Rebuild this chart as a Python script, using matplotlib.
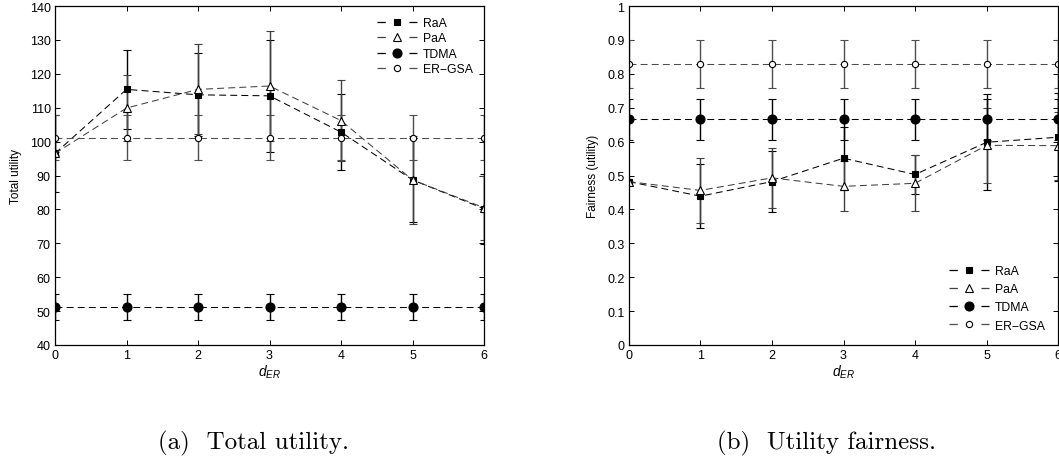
import matplotlib
matplotlib.use('Agg')
import matplotlib.pyplot as plt
from matplotlib.lines import Line2D
from matplotlib.ticker import FuncFormatter

plt.rcParams['font.family'] = ['Liberation Sans', 'DejaVu Sans']
plt.rcParams['mathtext.fontset'] = 'custom'
plt.rcParams['mathtext.it'] = 'Liberation Sans:italic'
plt.rcParams['mathtext.rm'] = 'Liberation Sans'
plt.rcParams['lines.scale_dashes'] = False

# abscissa
d_er = [0, 1, 2, 3, 4, 5, 6]

# (a) total utility
raa_util = [96.5, 115.4, 113.8, 113.5, 102.8, 88.7, 80.2]
raa_util_err = [11.3, 11.6, 12.2, 16.6, 11.1, 12.5, 10.3]
paa_util = [96.5, 109.9, 115.4, 116.4, 106.2, 88.7, 80.5]
paa_util_err = [0.5, 9.6, 13.3, 16.1, 12.0, 13.0, 9.5]
tdma_util = [51.3, 51.3, 51.3, 51.3, 51.3, 51.3, 51.3]
tdma_util_err = [3.8, 3.8, 3.8, 3.8, 3.8, 3.8, 3.8]
gsa_util = [101.2, 101.2, 101.2, 101.2, 101.2, 101.2, 101.2]
gsa_util_err = [6.7, 6.7, 6.7, 6.7, 6.7, 6.7, 6.7]

# (b) utility fairness
raa_fair = [0.482, 0.439, 0.482, 0.551, 0.503, 0.598, 0.613]
raa_fair_err = [0.0, 0.095, 0.089, 0.093, 0.057, 0.142, 0.13]
paa_fair = [0.482, 0.456, 0.493, 0.468, 0.477, 0.589, 0.588]
paa_fair_err = [0.0, 0.096, 0.089, 0.074, 0.083, 0.11, 0.10]
tdma_fair = [0.666, 0.666, 0.666, 0.666, 0.666, 0.666, 0.666]
tdma_fair_err = [0.06, 0.06, 0.06, 0.06, 0.06, 0.06, 0.06]
gsa_fair = [0.828, 0.828, 0.828, 0.828, 0.828, 0.828, 0.828]
gsa_fair_err = [0.071, 0.071, 0.071, 0.071, 0.071, 0.071, 0.071]

labels = ['RaA', 'PaA', 'TDMA', 'ER\u2212GSA']

# style per series: marker, size, face, line colour
styles = [
    dict(marker='s', ms=4.5, mfc='k', color='k'),
    dict(marker='^', ms=5.5, mfc='w', color='0.25'),
    dict(marker='o', ms=6.5, mfc='k', color='k'),
    dict(marker='o', ms=4.5, mfc='w', color='0.3'),
]
DASH = (5, 3)


def draw_panel(ax, series, ylim, yticks, ylabel, fmt):
    for (y, err), st in zip(series, styles):
        ax.errorbar(d_er, y, yerr=err, marker=st['marker'], ms=st['ms'],
                    mfc=st['mfc'], mec='k', mew=0.8, color=st['color'],
                    ecolor=st['color'], elinewidth=1.0, capsize=3,
                    capthick=1.0, lw=0.75, dashes=DASH)
    ax.set_xlim(0, 6)
    ax.set_ylim(*ylim)
    ax.set_xticks(d_er)
    ax.set_yticks(yticks)
    ax.yaxis.set_major_formatter(FuncFormatter(fmt))
    ax.tick_params(direction='in', length=3.6, width=0.7, labelsize=9,
                   top=True, right=True, pad=3)
    for s in ax.spines.values():
        s.set_linewidth(0.9)
    ax.set_xlabel('$d_{ER}$', fontsize=10, labelpad=1)
    ax.set_ylabel(ylabel, fontsize=8.5, labelpad=6)


def legend_handles():
    hs = []
    for st in styles:
        hs.append(Line2D([], [], marker=st['marker'], ms=st['ms'],
                         mfc=st['mfc'], mec='k', mew=0.8, color=st['color'],
                         lw=0.9, dashes=(6, 17)))
    return hs


fig = plt.figure(figsize=(10.59, 4.60), dpi=100)
ax1 = fig.add_axes([55 / 1059, 114 / 460, 429 / 1059, 339 / 460])
ax2 = fig.add_axes([628.7 / 1059, 114 / 460, 429.6 / 1059, 339 / 460])

draw_panel(ax1,
           [(raa_util, raa_util_err), (paa_util, paa_util_err),
            (tdma_util, tdma_util_err), (gsa_util, gsa_util_err)],
           (40, 140), list(range(40, 141, 10)), 'Total utility',
           lambda v, p: '%d' % v)
draw_panel(ax2,
           [(raa_fair, raa_fair_err), (paa_fair, paa_fair_err),
            (tdma_fair, tdma_fair_err), (gsa_fair, gsa_fair_err)],
           (0, 1), [i / 10 for i in range(11)], 'Fairness (utility)',
           lambda v, p: '%g' % round(v, 1))

ax1.legend(legend_handles(), labels, loc='upper right', frameon=False,
           fontsize=8.8, handlelength=3.3, handletextpad=0.5,
           labelspacing=0.28, borderaxespad=0.4, borderpad=0.5)
ax2.legend(legend_handles(), labels, loc='lower right', frameon=False,
           fontsize=8.8, handlelength=3.3, handletextpad=0.5,
           labelspacing=0.5, borderaxespad=0.6, borderpad=0.5)

fig.text(253.5 / 1059, 1 - 443 / 460, '(a)  Total utility.', family='cmr10',
         fontsize=18, ha='center', va='center')
fig.text(826.5 / 1059, 1 - 443 / 460, '(b)  Utility fairness.', family='cmr10',
         fontsize=18, ha='center', va='center')

fig.savefig('out.png', dpi=100)
